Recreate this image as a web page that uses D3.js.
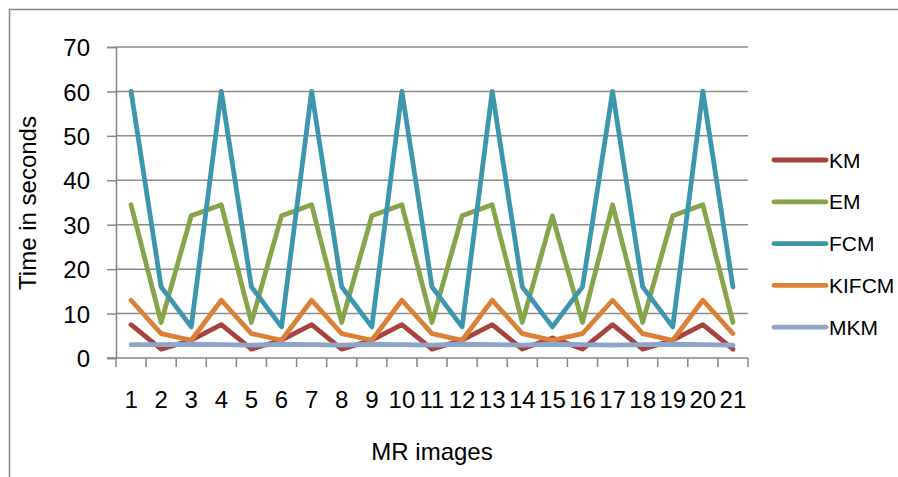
<!DOCTYPE html>
<html>
<head>
<meta charset="utf-8">
<script src="https://cdn.jsdelivr.net/npm/d3@7"></script>
<style>
html,body{margin:0;padding:0;background:#fff;}
text{font-family:"Liberation Sans","Arial",sans-serif;fill:#000;}
</style>
</head>
<body>
<svg id="chart" width="898" height="477"></svg>
<script>
const categories = d3.range(1, 22).map(String);
const KM    = [7.5, 2, 4, 7.5, 2, 4, 7.5, 2, 4, 7.5, 2, 4, 7.5, 2, 4.5, 2, 7.5, 2, 4, 7.5, 2];
const EM    = [34.5, 8, 32, 34.5, 8, 32, 34.5, 8, 32, 34.5, 8, 32, 34.5, 8, 32, 8, 34.5, 8, 32, 34.5, 8];
const FCM   = [60, 16, 7, 60, 16, 7, 60, 16, 7, 60, 16, 7, 60, 16, 7, 16, 60, 16, 7, 60, 16];
const KIFCM = [13, 5.5, 4, 13, 5.5, 4, 13, 5.5, 4, 13, 5.5, 4, 13, 5.5, 4, 5.5, 13, 5.5, 4, 13, 5.5];
const MKM   = [3, 3, 3.1, 3, 2.9, 3.1, 3, 2.9, 3.1, 3, 2.9, 3.1, 3, 2.9, 3.1, 3, 2.9, 3, 3.1, 3, 2.9];
const yTicks = [0, 10, 20, 30, 40, 50, 60, 70];
const seriesNames = ["KM", "EM", "FCM", "KIFCM", "MKM"];
const seriesColors = ["#A8423F", "#86A44A", "#3D96AE", "#DA8137", "#8EA5CB"];
const seriesData = [KM, EM, FCM, KIFCM, MKM];

const svg = d3.select("#chart");
const mLeft = 116, mRight = 748, mTop = 47, mBottom = 358;

// outer frame
svg.append("rect").attr("x", 9.5).attr("y", 9.5).attr("width", 1000).attr("height", 1000)
  .attr("fill", "none").attr("stroke", "#868686").attr("stroke-width", 1.5);

const x = d3.scaleBand().domain(categories).range([mLeft, mRight]);
const y = d3.scaleLinear().domain([0, 70]).range([mBottom, mTop]);

// gridlines
svg.append("g").selectAll("line").data(yTicks.filter(d => d > 0)).join("line")
  .attr("x1", mLeft).attr("x2", mRight)
  .attr("y1", d => y(d)).attr("y2", d => y(d))
  .attr("stroke", "#8c8c8c").attr("stroke-width", 1.5);

// y axis
const yAxis = svg.append("g").attr("transform", `translate(${mLeft},0)`)
  .call(d3.axisLeft(y).tickValues(yTicks).tickSize(9).tickPadding(17));
yAxis.select(".domain").attr("stroke", "#868686").attr("stroke-width", 1.5);
yAxis.selectAll(".tick line").attr("stroke", "#868686").attr("stroke-width", 1.5);
yAxis.selectAll("text").attr("font-size", 24).attr("dy", "0.36em")
  .style("font-family", '"Liberation Sans",Arial,sans-serif');

// x axis
const xAxis = svg.append("g").attr("transform", `translate(0,${mBottom})`)
  .call(d3.axisBottom(x).tickSize(0).tickPadding(50));
xAxis.select(".domain").remove();
svg.append("line").attr("x1", mLeft - 9).attr("x2", mRight).attr("y1", mBottom).attr("y2", mBottom)
  .attr("stroke", "#868686").attr("stroke-width", 1.5);
svg.append("g").selectAll("line").data(d3.range(categories.length + 1)).join("line")
  .attr("x1", i => mLeft + i * x.step()).attr("x2", i => mLeft + i * x.step())
  .attr("y1", mBottom).attr("y2", mBottom + 9)
  .attr("stroke", "#868686").attr("stroke-width", 1.5);
xAxis.selectAll("text").attr("font-size", 24).attr("dy", "0")
  .style("font-family", '"Liberation Sans",Arial,sans-serif');

// axis titles
svg.append("text").attr("x", 432).attr("y", 460).attr("text-anchor", "middle")
  .attr("font-size", 24).text("MR images");
svg.append("text").attr("transform", "translate(36,203) rotate(-90)").attr("text-anchor", "middle")
  .attr("font-size", 24).text("Time in seconds");

// lines
const line = d3.line().x((d, i) => x(categories[i]) + x.bandwidth() / 2).y(d => y(d));
seriesData.forEach((s, k) => {
  svg.append("path").datum(s).attr("d", line).attr("fill", "none")
    .attr("stroke", seriesColors[k]).attr("stroke-width", 4.8)
    .attr("stroke-linejoin", "round").attr("stroke-linecap", "round");
});

// legend
const lg = svg.append("g");
seriesNames.forEach((n, k) => {
  const ly = 160 + k * 41.8;
  lg.append("line").attr("x1", 774).attr("x2", 826).attr("y1", ly).attr("y2", ly)
    .attr("stroke", seriesColors[k]).attr("stroke-width", 4.8).attr("stroke-linecap", "round");
  lg.append("text").attr("x", 829).attr("y", ly).attr("dy", "0.36em")
    .attr("font-size", 21).text(n);
});
</script>
</body>
</html>
